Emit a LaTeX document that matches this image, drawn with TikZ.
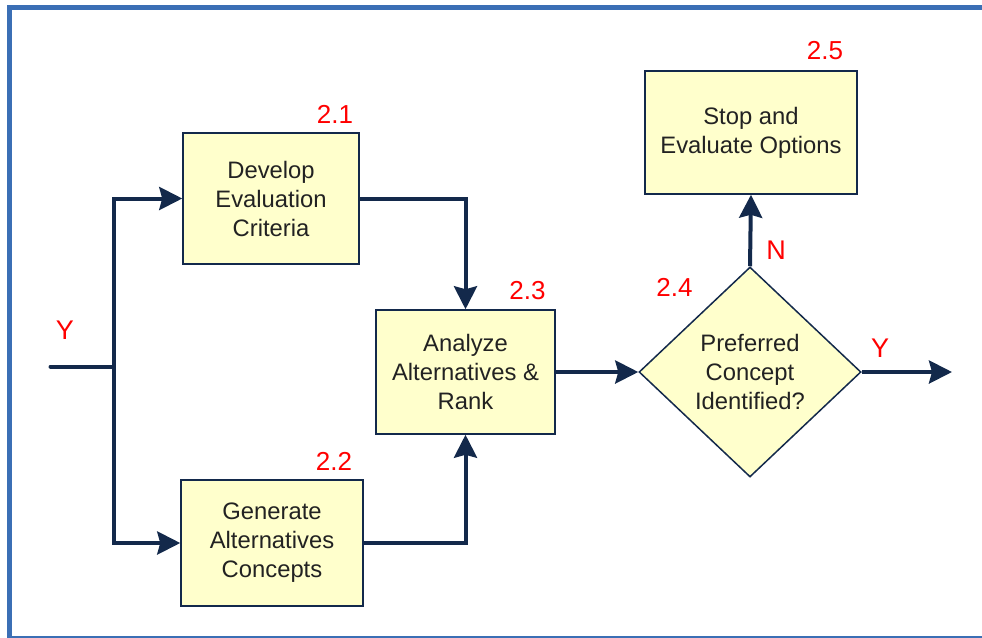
\documentclass[tikz,border=0pt]{standalone}
\usepackage{fontspec}
\setmainfont{Liberation Sans}
\usetikzlibrary{arrows.meta,shapes.geometric}
\definecolor{navy}{HTML}{13294B}
\definecolor{boxfill}{HTML}{FFFFCC}
\definecolor{frameblue}{HTML}{3B6FB5}
\definecolor{txt}{HTML}{222222}
\begin{document}
\begin{tikzpicture}[x=1pt,y=-1pt,
  procbox/.style={draw=navy, line width=1.5pt, fill=boxfill, inner sep=0pt, align=center,
    text=txt, font=\fontsize{23.8}{29}\selectfont},
  decbox/.style={diamond, draw=navy, line width=1.5pt, fill=boxfill, inner sep=0pt, align=center,
    text=txt, font=\fontsize{23.8}{29}\selectfont, minimum width=222pt, minimum height=210pt, aspect=1.057},
  numlbl/.style={text=red, font=\fontsize{26}{28}\selectfont, inner sep=0pt},
  ynlbl/.style={text=red, font=\fontsize{27}{30}\selectfont, inner sep=0pt},
  flow/.style={draw=navy, line width=4pt, -{Stealth[length=23pt,width=23pt,inset=3pt]}},
  plainflow/.style={draw=navy, line width=4pt, line cap=round}
]
\useasboundingbox (0,0) rectangle (982,637);
\draw[frameblue, line width=5pt] (9.5,7.5) rectangle (1000,638.5);

\node[procbox, minimum width=176pt, minimum height=131pt] (b21) at (271,198.5) {Develop\\Evaluation\\Criteria};
\node[procbox, minimum width=182pt, minimum height=126pt] (b22) at (272,543) {Generate\\Alternatives\\Concepts};
\node[procbox, minimum width=179pt, minimum height=124pt] (b23) at (465.5,372) {Analyze\\Alternatives \&\\Rank};
\node[decbox] (dia) at (750,372) {Preferred\\Concept\\Identified?};
\node[procbox, minimum width=212pt, minimum height=123pt] (b25) at (751,132.5) {Stop and\\Evaluate Options};

\node[numlbl] (n21) at (335,114) {2.1};
\node[numlbl] (n22) at (334,461) {2.2};
\node[numlbl] (n23) at (527.5,290.5) {2.3};
\node[numlbl] (n24) at (674.5,287) {2.4};
\node[numlbl] (n25) at (825,51) {2.5};
\node[ynlbl] (yl) at (65,330) {Y};
\node[ynlbl] (nl) at (776,250) {N};
\node[ynlbl] (yr) at (880,348) {Y};

\coordinate (start) at (50.5,366.5);
\coordinate (split) at (113.5,366.5);
\coordinate (endc) at (952,372);

\draw[plainflow] (start) -- (split);
\draw[flow] (split) |- (b21.west);
\draw[flow] (split) |- (b22.west);
\draw[flow] (b21.east) -| (b23.north);
\draw[flow] (b22.east) -| (b23.south);
\draw[flow] (b23.east) -- (dia.west);
\draw[flow] (dia.north) -- (b25.south);
\draw[flow] (dia.east) -- (endc);
\end{tikzpicture}
\end{document}
